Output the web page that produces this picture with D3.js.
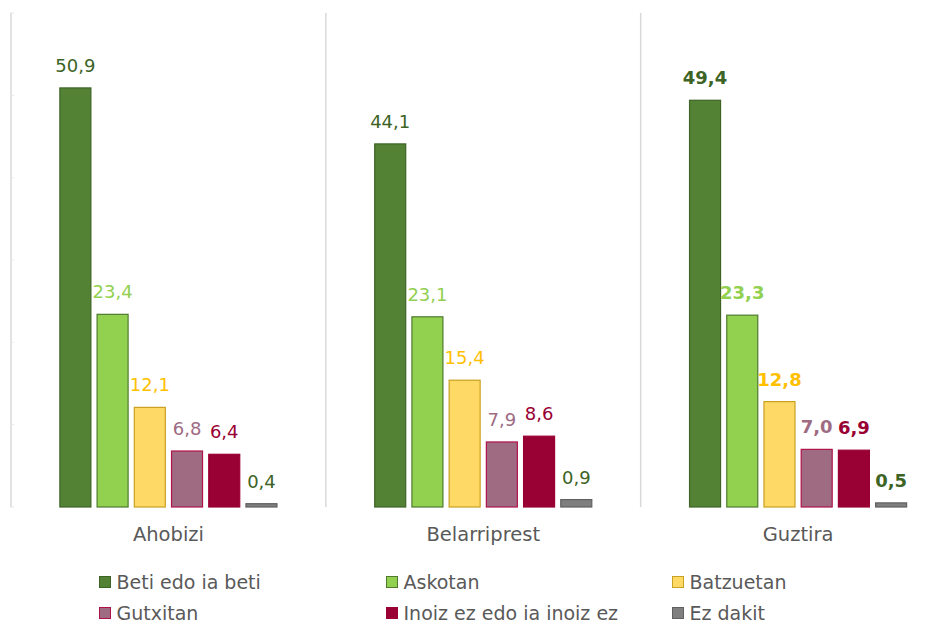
<!DOCTYPE html>
<html>
<head>
<meta charset="utf-8">
<script src="https://cdn.jsdelivr.net/npm/d3@7"></script>
<style>
  html, body { margin: 0; padding: 0; background: #fff; }
  svg { display: block; }
  text { font-family: "DejaVu Sans", "Open Sans", sans-serif; }
</style>
</head>
<body>
<svg id="chart" width="939" height="625"></svg>
<script>
const categories = ["Ahobizi", "Belarriprest", "Guztira"];
const seriesNames = ["Beti edo ia beti", "Askotan", "Batzuetan", "Gutxitan", "Inoiz ez edo ia inoiz ez", "Ez dakit"];
const betiEdoIaBeti = [50.9, 44.1, 49.4];
const askotan = [23.4, 23.1, 23.3];
const batzuetan = [12.1, 15.4, 12.8];
const gutxitan = [6.8, 7.9, 7.0];
const inoizEz = [6.4, 8.6, 6.9];
const ezDakit = [0.4, 0.9, 0.5];
const yTicks = [0, 10, 20, 30, 40, 50, 60];

const seriesValues = [betiEdoIaBeti, askotan, batzuetan, gutxitan, inoizEz, ezDakit];
const fills = ["#548235", "#92d050", "#ffd966", "#9e6b83", "#990033", "#7f7f7f"];
const strokes = ["#3d6325", "#4f7a2e", "#c9a020", "#b0134a", "#990033", "#606060"];
const labelColors = ["#3d6325", "#92d050", "#ffc000", "#9e6b83", "#990033", "#3d6325"];

const svg = d3.select("#chart");
const x0 = d3.scaleBand().domain(categories).range([11, 955.5]).padding(0);
const x1 = d3.scaleBand().domain(seriesNames).range([0, x0.bandwidth()]).paddingInner(0.14).paddingOuter(1.3);
const y = d3.scaleLinear().domain([0, 60]).range([507, 13]);

// vertical separators
const seps = categories.map(c => x0(c));
svg.append("g").selectAll("line").data(seps).join("line")
  .attr("x1", d => d).attr("x2", d => d)
  .attr("y1", y(60)).attr("y2", y(0))
  .attr("stroke", "#d9d9d9").attr("stroke-width", 1.5);

// small tick marks on left axis
svg.append("g").selectAll("line").data(yTicks).join("line")
  .attr("x1", x0.range()[0] - 1).attr("x2", x0.range()[0] + 3)
  .attr("y1", d => y(d)).attr("y2", d => y(d))
  .attr("stroke", "#e6e6e6").attr("stroke-width", 1);

const groups = svg.append("g").selectAll("g").data(categories).join("g")
  .attr("transform", d => `translate(${x0(d)},0)`);

groups.each(function(cat, ci) {
  const g = d3.select(this);
  seriesNames.forEach((s, si) => {
    const v = seriesValues[si][ci];
    g.append("rect")
      .attr("x", x1(s) + 0.5)
      .attr("y", y(v))
      .attr("width", x1.bandwidth() - 1)
      .attr("height", y(0) - y(v))
      .attr("fill", fills[si])
      .attr("stroke", strokes[si])
      .attr("stroke-width", 1.2);
    g.append("text")
      .attr("x", x1(s) + x1.bandwidth() / 2)
      .attr("y", y(v) - 16)
      .attr("text-anchor", "middle")
      .attr("font-size", 18)
      .attr("font-weight", ci === 2 ? "bold" : "normal")
      .attr("fill", labelColors[si])
      .text(d3.format(".1f")(v).replace(".", ","));
  });
  g.append("text")
    .attr("x", x0.bandwidth() / 2)
    .attr("y", 541)
    .attr("text-anchor", "middle")
    .attr("font-size", 19.5)
    .attr("fill", "#595959")
    .text(cat);
});

// legend
const legX = [99.5, 386.5, 672.5];
const legY = [582, 613];
const leg = svg.append("g").selectAll("g").data(seriesNames).join("g")
  .attr("transform", (d, i) => `translate(${legX[i % 3]},${legY[Math.floor(i / 3)]})`);
leg.append("rect")
  .attr("x", 0).attr("y", -5.5).attr("width", 11).attr("height", 11)
  .attr("fill", (d, i) => fills[i])
  .attr("stroke", (d, i) => strokes[i]).attr("stroke-width", 1);
leg.append("text")
  .attr("x", 17).attr("y", 6.5)
  .attr("font-size", 19)
  .attr("fill", "#595959")
  .text(d => d);
</script>
</body>
</html>
